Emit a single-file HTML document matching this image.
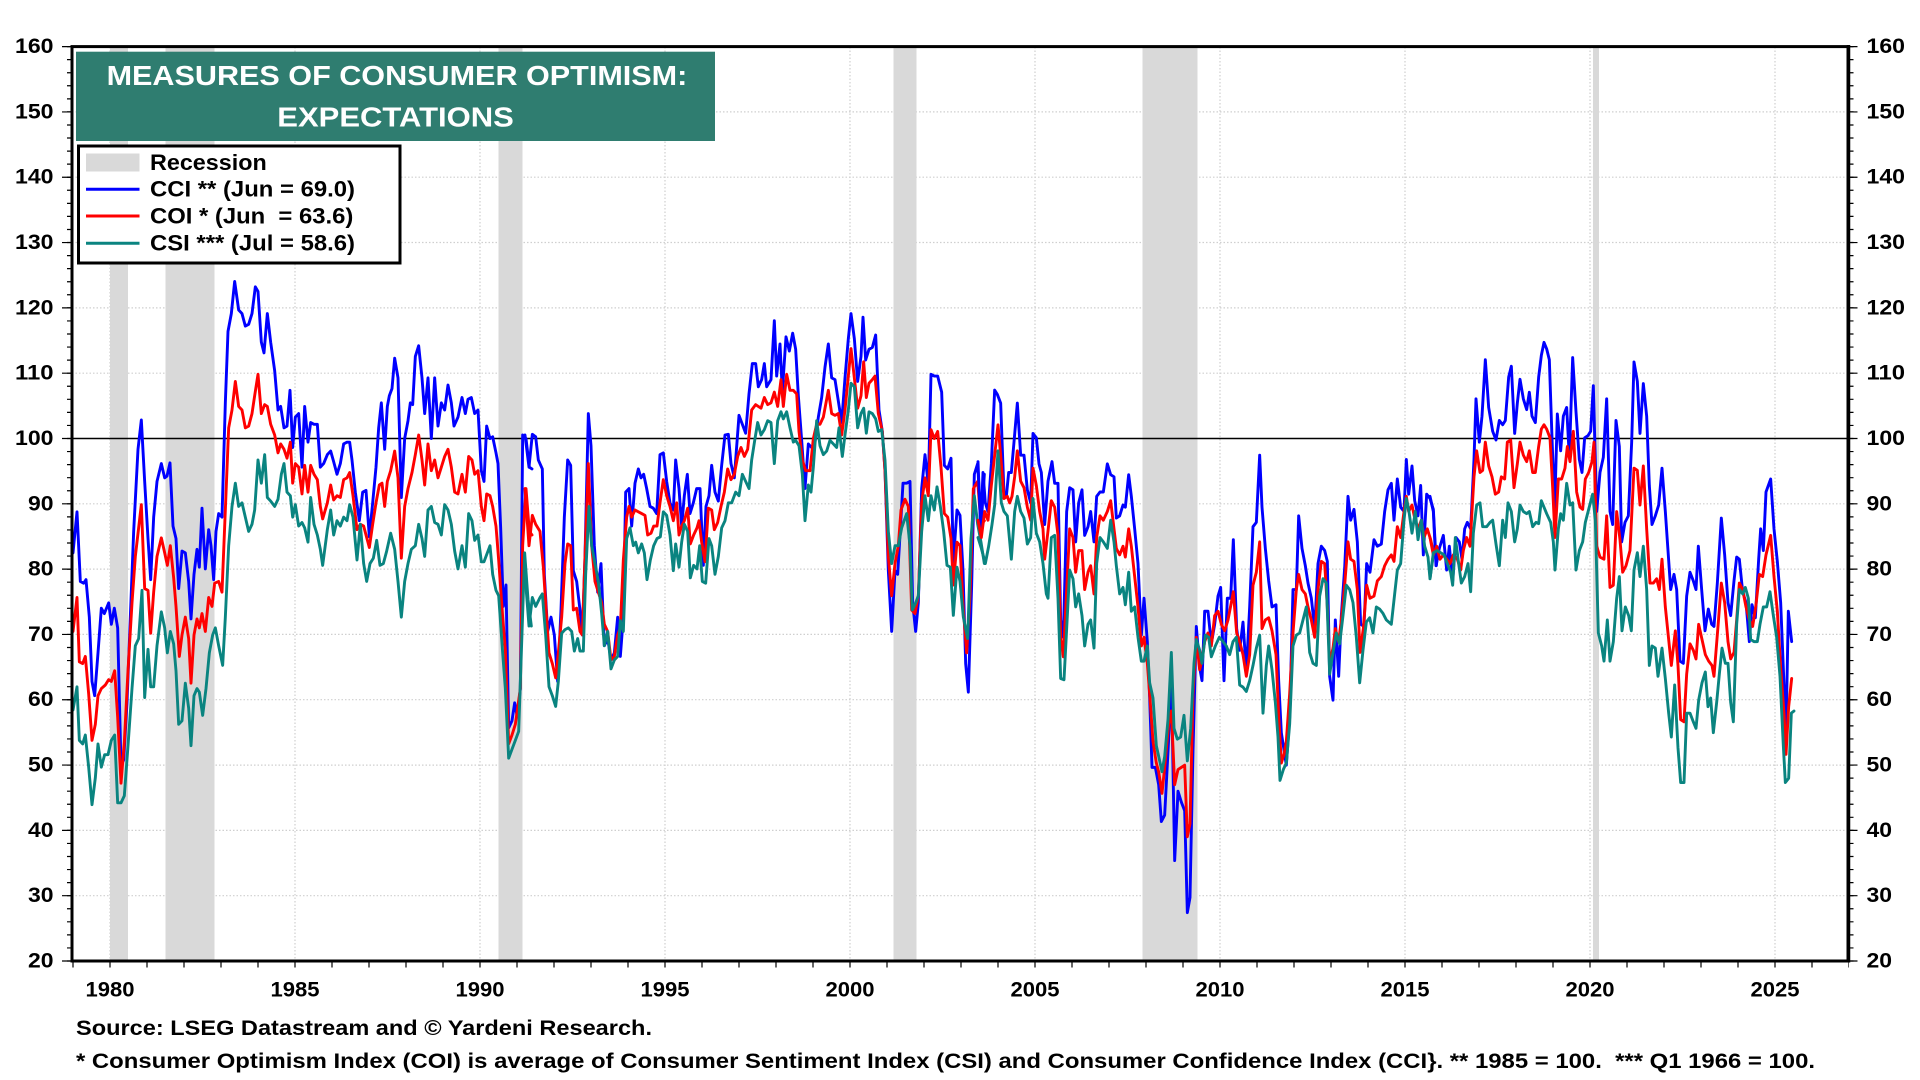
<!DOCTYPE html>
<html><head><meta charset="utf-8"><style>
html,body{margin:0;padding:0;background:#fff;}
svg{display:block;}
text{font-family:"Liberation Sans",Arial,sans-serif;font-weight:bold;}
</style></head><body>
<svg width="1920" height="1080" viewBox="0 0 1920 1080" xmlns="http://www.w3.org/2000/svg">
<rect x="0" y="0" width="1920" height="1080" fill="#fff"/>
<!-- horizontal gridlines -->
<g stroke="#cfcfcf" stroke-width="1.2" stroke-dasharray="1.5 2">
<line x1="72" x2="1848" y1="895.7" y2="895.7"/><line x1="72" x2="1848" y1="830.4" y2="830.4"/>
<line x1="72" x2="1848" y1="765.1" y2="765.1"/><line x1="72" x2="1848" y1="699.7" y2="699.7"/>
<line x1="72" x2="1848" y1="634.4" y2="634.4"/><line x1="72" x2="1848" y1="569.1" y2="569.1"/>
<line x1="72" x2="1848" y1="503.8" y2="503.8"/><line x1="72" x2="1848" y1="373.2" y2="373.2"/>
<line x1="72" x2="1848" y1="307.9" y2="307.9"/><line x1="72" x2="1848" y1="242.5" y2="242.5"/>
<line x1="72" x2="1848" y1="177.2" y2="177.2"/><line x1="72" x2="1848" y1="111.9" y2="111.9"/>
<line x1="110" x2="110" y1="47" y2="960"/><line x1="295" x2="295" y1="47" y2="960"/>
<line x1="480" x2="480" y1="47" y2="960"/><line x1="665" x2="665" y1="47" y2="960"/>
<line x1="850" x2="850" y1="47" y2="960"/><line x1="1035" x2="1035" y1="47" y2="960"/>
<line x1="1220" x2="1220" y1="47" y2="960"/><line x1="1405" x2="1405" y1="47" y2="960"/>
<line x1="1590" x2="1590" y1="47" y2="960"/><line x1="1775" x2="1775" y1="47" y2="960"/>
</g>
<!-- recessions -->
<g fill="#d9d9d9">
<rect x="110" y="47" width="18" height="913"/>
<rect x="165.5" y="47" width="49" height="913"/>
<rect x="498.5" y="47" width="24" height="913"/>
<rect x="893.5" y="47" width="23" height="913"/>
<rect x="1142.5" y="47" width="55" height="913"/>
<rect x="1593" y="47" width="6" height="913"/>
</g>
<!-- 100 line -->
<line x1="72" x2="1848" y1="438.5" y2="438.5" stroke="#000" stroke-width="1.5"/>

<!-- DATA -->
<g fill="none" stroke-width="2.9" stroke-linejoin="round" stroke-linecap="round">
<!-- Group A: 1979-1991 -->
<g transform="translate(72,260) scale(0.333333,0.357143)">
<polyline vector-effect="non-scaling-stroke" stroke="#0000ff" points="3,820 15,705 25,900 35,905 42,895 52,1000 60,1180 68,1220 78,1100 88,975 97,990 110,960 118,1020 127,975 137,1030 147,1415 155,1400 165,1240 175,1000 185,760 198,530 208,448 218,620 228,780 236,895 245,720 255,620 268,570 278,610 285,605 294,568 303,745 312,780 320,920 330,815 340,820 350,900 357,1005 366,880 375,810 382,860 390,695 400,865 410,755 417,800 425,895 432,760 440,710 450,720 460,400 468,200 478,150 488,60 500,140 510,150 520,185 530,180 540,150 550,75 558,88 568,230 576,260 586,150 596,230 608,310 618,420 626,410 636,470 645,465 654,365 662,525 670,440 680,430 690,580 698,410 708,510 716,455 726,460 736,460 745,580 755,570 766,545 776,535 785,565 795,600 805,570 815,515 825,510 833,510 840,560 850,650 862,730 872,650 882,645 892,775 902,680 912,580 920,470 928,400 938,530 946,410 952,380 960,360 968,275 978,330 988,665 998,500 1008,450 1015,400 1022,405 1030,270 1040,240 1050,330 1058,430 1068,330 1078,500 1088,330 1098,465 1108,400 1118,420 1128,350 1138,400 1146,465 1158,440 1170,385 1180,430 1188,390 1198,385 1208,430 1218,420 1228,590 1236,620 1244,465 1254,500 1262,495 1272,540 1278,570 1286,750 1294,970 1302,910 1310,1310 1320,1290 1328,1240 1336,1280 1345,1200 1352,490 1362,500 1372,580 1380,585"/>
<polyline vector-effect="non-scaling-stroke" stroke="#ff0000" points="3,1040 15,945 22,1125 32,1130 40,1110 50,1215 60,1345 70,1300 78,1220 88,1200 100,1190 110,1175 118,1180 128,1150 137,1280 147,1465 157,1350 168,1150 180,960 190,830 208,685 218,920 228,925 236,1045 245,930 255,830 268,778 278,820 286,855 295,800 305,890 312,970 322,1110 330,1050 340,1000 350,1060 357,1185 366,1050 375,1005 382,1030 390,990 400,1040 410,945 420,970 428,905 440,900 450,930 460,700 470,470 480,420 490,340 500,410 510,420 520,470 530,465 540,430 548,380 558,320 568,430 578,405 586,410 596,460 608,490 618,540 626,515 636,530 645,555 655,510 662,625 670,570 680,580 690,655 698,575 708,650 716,575 726,600 736,615 745,690 752,725 766,680 776,630 785,672 795,660 805,665 815,615 825,610 833,595 843,660 855,755 865,740 875,745 892,805 902,740 912,680 922,630 930,625 938,690 946,620 956,590 968,535 978,610 988,835 998,690 1008,640 1020,595 1030,545 1040,490 1050,560 1058,630 1068,515 1078,590 1088,560 1098,610 1108,580 1118,550 1128,530 1138,580 1148,650 1158,655 1170,600 1180,650 1190,550 1200,560 1208,600 1218,590 1228,690 1236,730 1244,655 1254,660 1262,690 1272,745 1280,840 1292,1000 1300,1090 1310,1355 1320,1330 1330,1300 1345,1200 1352,800 1362,640 1372,760 1380,770"/>
<polyline vector-effect="non-scaling-stroke" stroke="#0a8480" points="3,1260 15,1195 22,1345 32,1355 40,1330 50,1420 60,1525 70,1450 78,1355 88,1420 98,1385 108,1385 118,1345 128,1330 137,1520 147,1520 157,1500 168,1360 180,1200 190,1080 200,1060 210,925 218,1225 228,1090 236,1195 245,1195 255,1080 268,985 278,1030 286,1100 295,1040 305,1075 312,1150 320,1300 330,1290 340,1185 350,1255 357,1360 366,1220 375,1200 382,1210 392,1275 402,1200 412,1100 422,1050 430,1030 440,1080 452,1135 460,1000 470,800 480,690 490,625 500,690 510,680 520,720 530,760 540,740 548,700 558,560 568,625 578,545 586,665 596,675 608,690 618,670 628,600 636,570 645,650 655,660 662,720 670,685 680,745 690,735 698,750 708,790 716,665 726,740 736,770 745,810 752,855 766,755 776,700 785,770 795,730 805,745 815,720 825,730 833,685 843,720 855,840 865,740 875,850 884,900 894,850 904,835 914,785 924,855 934,850 944,815 956,765 968,810 978,900 988,1000 998,900 1008,850 1018,810 1030,800 1040,740 1050,780 1058,830 1068,700 1078,690 1088,735 1098,740 1108,770 1118,685 1128,700 1138,740 1148,815 1158,865 1170,800 1180,860 1190,710 1200,730 1208,785 1218,770 1228,845 1236,845 1244,825 1254,800 1262,880 1272,925 1280,940 1292,1100 1300,1200 1310,1395 1320,1370 1330,1345 1340,1320 1348,1100 1358,820 1368,950 1378,1025"/>
</g>
<!-- Group B: 1991-2003 -->
<g transform="translate(525,260) scale(0.333333,0.357143)">
<polyline vector-effect="non-scaling-stroke" stroke="#0000ff" points="0,490 12,580 22,488 32,495 40,560 52,585 58,880 68,1040 78,1000 88,1050 98,1180 108,980 118,720 128,560 137,575 145,870 155,900 165,980 172,1050 180,830 190,430 198,520 208,800 218,930 228,850 238,1080 248,1060 258,1120 268,1100 278,1000 286,1110 295,1000 302,650 312,640 320,745 330,625 340,585 348,610 356,600 365,640 375,690 385,695 395,710 405,545 415,540 425,620 435,680 445,700 452,560 462,640 470,745 478,660 487,600 495,710 505,680 515,640 525,640 535,855 543,690 552,660 560,575 570,650 580,675 590,575 600,490 610,488 618,570 628,610 642,435 652,460 662,485 672,375 682,290 692,290 700,355 710,335 718,290 725,355 738,335 748,170 755,325 765,235 772,370 783,215 793,255 803,205 812,250 820,380 830,505 840,640 850,515 860,525 870,510 880,440 890,385 900,300 910,235 920,330 930,335 940,395 950,455 960,330 970,220 978,150 988,220 998,340 1008,270 1014,160 1022,280 1032,250 1042,245 1052,210 1062,420 1072,480 1080,590 1090,870 1100,1040 1110,870 1118,880 1126,755 1134,625 1145,625 1155,620 1163,960 1172,1040 1180,960 1190,640 1200,545 1210,630 1218,320 1228,325 1238,325 1250,370 1258,575 1268,585 1278,555 1285,845 1296,700 1305,715 1314,870 1322,1130 1330,1210 1340,910 1348,600 1358,570 1368,750 1378,600"/>
<polyline vector-effect="non-scaling-stroke" stroke="#ff0000" points="0,640 12,800 22,715 32,740 45,760 55,860 62,960 72,1100 82,1130 92,1170 100,1100 110,1000 120,850 128,795 137,800 145,980 155,975 165,1040 172,1050 180,830 190,570 200,800 210,900 220,930 230,960 238,1020 248,1040 258,1120 268,1110 278,1050 286,1030 295,840 305,720 312,690 320,720 330,700 340,705 350,710 360,715 368,770 378,765 386,745 396,745 405,680 415,615 425,660 435,690 445,730 455,680 462,770 470,745 478,730 488,695 496,795 506,770 516,750 522,730 530,790 540,845 550,695 560,700 568,755 578,735 588,690 598,650 608,585 618,615 628,600 638,550 648,525 658,550 668,530 680,420 692,405 700,410 708,415 718,385 728,405 738,400 748,370 758,410 768,335 775,410 785,320 795,365 805,365 815,375 822,480 832,560 842,590 855,590 865,500 875,460 885,460 895,440 910,365 920,430 930,435 940,430 950,490 960,420 970,325 978,248 988,330 998,415 1008,380 1016,285 1024,385 1032,345 1042,335 1050,325 1060,430 1072,480 1080,590 1090,830 1100,940 1110,850 1120,800 1128,700 1140,670 1150,690 1160,980 1170,990 1180,940 1190,680 1200,610 1210,660 1218,475 1228,500 1238,480 1248,580 1258,710 1268,720 1278,780 1285,910 1296,790 1305,800 1315,980 1325,1100 1335,940 1345,640 1358,620 1368,740 1378,730"/>
<polyline vector-effect="non-scaling-stroke" stroke="#0a8480" points="0,880 12,1025 22,945 32,970 45,945 52,935 62,1050 72,1195 82,1220 92,1250 100,1180 110,1045 120,1035 130,1030 140,1040 148,1095 158,1060 165,1095 175,1095 182,880 192,690 200,800 210,850 220,900 230,990 238,1080 248,1040 258,1145 268,1120 278,1110 286,1010 295,1040 305,780 315,750 325,800 332,790 340,820 350,795 358,820 366,895 376,840 386,800 396,780 406,775 415,705 425,715 435,770 445,870 452,795 462,860 470,790 478,740 488,760 496,890 506,855 516,865 524,800 532,900 542,905 552,780 560,800 570,880 580,830 590,750 600,730 610,680 620,680 632,650 642,660 652,600 662,620 672,640 680,560 690,500 698,455 708,490 718,475 728,450 738,455 748,570 758,450 768,425 775,445 785,425 795,470 805,510 812,505 822,520 832,600 840,730 850,630 858,650 865,580 875,450 885,520 895,545 905,535 915,505 925,515 935,525 942,470 952,550 960,490 970,420 978,345 988,355 998,470 1008,430 1016,415 1024,485 1032,425 1042,430 1052,445 1060,480 1070,475 1080,560 1090,760 1100,850 1110,800 1120,800 1130,750 1145,710 1155,800 1162,980 1172,960 1180,940 1190,760 1200,660 1210,730 1218,660 1228,700 1236,635 1246,690 1256,760 1266,855 1276,860 1285,995 1296,860 1305,900 1315,1000 1328,1060 1338,780 1348,660 1358,740 1368,790 1378,850"/>
</g>
<!-- Group C: 2003-2015 -->
<g transform="translate(978,260) scale(0.333333,0.433651)">
<polyline vector-effect="non-scaling-stroke" stroke="#0000ff" points="0,465 8,620 15,490 22,560 30,580 40,470 50,300 58,310 68,330 78,540 85,545 92,490 100,490 108,420 118,330 128,450 138,450 148,530 158,560 165,400 175,410 183,470 190,490 200,610 210,510 222,465 230,515 240,515 248,830 256,870 266,580 275,525 285,530 293,650 302,560 312,530 320,635 330,615 338,580 348,650 356,545 366,535 376,535 388,470 398,495 408,500 415,595 425,590 435,565 442,570 452,495 460,545 470,620 480,700 490,865 498,780 508,880 515,1010 522,1170 532,1170 542,1210 550,1295 560,1280 572,1105 580,960 590,1385 600,1225 610,1250 620,1270 628,1505 636,1470 645,1130 655,845 665,940 672,970 680,810 690,810 700,885 710,840 720,775 728,755 738,970 748,780 758,780 766,645 776,850 785,900 795,835 805,950 815,800 825,615 835,605 845,450 852,570 862,665 872,740 882,800 894,795 902,970 910,1090 918,1130 925,1165 935,1055 945,760 955,760 962,590 972,665 982,705 990,745 1000,780 1010,850 1020,700 1030,660 1040,670 1048,695 1055,960 1065,1015 1072,830 1082,960 1090,820 1100,710 1110,545 1118,600 1128,575 1138,650 1148,840 1158,845 1166,700 1176,720 1188,645 1198,660 1210,655 1220,580 1230,530 1240,515 1248,600 1258,505 1268,570 1278,580 1285,460 1292,540 1302,475 1310,555 1320,590 1328,520 1336,680 1346,540 1356,550 1366,575 1375,705 1380,670"/>
<polyline vector-effect="non-scaling-stroke" stroke="#ff0000" points="0,600 10,640 20,580 30,600 40,520 50,450 60,380 68,450 78,550 88,545 95,560 102,545 110,500 118,440 128,510 138,525 148,570 158,600 165,480 175,520 185,580 195,620 200,690 210,625 220,555 230,570 240,635 248,870 256,915 266,760 275,620 285,640 293,720 302,670 312,670 320,760 330,720 338,705 348,770 356,640 366,590 376,600 388,580 398,555 408,620 415,665 425,680 435,660 442,685 452,620 460,660 470,730 480,800 490,890 498,870 508,930 515,1000 525,1110 535,1160 542,1180 552,1230 560,1170 572,1070 580,1040 590,1210 600,1175 610,1170 620,1165 628,1330 636,1300 645,1000 655,870 665,945 672,920 680,880 690,860 700,890 710,820 720,810 730,840 740,855 750,830 760,790 766,765 776,860 785,880 795,910 805,960 815,910 825,750 835,720 845,650 852,850 862,830 872,825 882,855 894,910 902,1050 910,1160 918,1140 925,1110 935,1000 945,860 955,760 962,725 972,760 982,770 990,800 1000,830 1010,870 1020,760 1030,695 1040,700 1048,800 1055,930 1065,895 1072,850 1082,880 1090,830 1100,750 1110,650 1118,690 1128,695 1138,760 1146,905 1156,850 1166,750 1176,780 1188,775 1198,740 1210,730 1220,705 1230,690 1240,680 1248,695 1258,615 1268,640 1278,580 1285,545 1292,580 1302,565 1310,595 1320,620 1330,600 1338,640 1348,620 1358,645 1368,680 1380,680"/>
<polyline vector-effect="non-scaling-stroke" stroke="#0a8480" points="0,640 10,665 22,700 32,660 42,610 50,565 60,440 70,560 78,580 88,590 100,690 110,580 118,545 128,580 138,595 148,655 158,640 165,550 175,630 185,650 195,700 205,770 210,780 220,640 230,635 240,780 248,965 258,968 266,850 275,715 285,735 293,800 302,770 312,820 320,890 330,840 338,830 348,895 356,700 366,640 376,650 388,665 398,600 408,650 415,705 425,770 435,755 442,795 452,720 460,810 470,800 480,870 490,925 498,925 508,890 515,975 525,1010 535,1120 545,1155 552,1180 560,1145 570,1060 580,905 588,1080 598,1105 608,1100 618,1050 628,1155 638,1080 648,930 655,875 665,900 672,930 682,865 692,870 700,915 712,890 724,870 735,880 745,890 755,910 765,880 775,870 785,980 795,985 805,995 815,970 825,935 835,895 845,865 855,1045 865,935 872,890 882,945 892,1020 900,1100 906,1200 916,1175 925,1160 935,1070 945,890 955,865 965,860 975,830 985,800 995,905 1005,930 1015,935 1025,775 1035,735 1045,745 1055,955 1065,905 1075,860 1085,885 1095,820 1105,750 1115,760 1125,790 1135,870 1145,975 1155,900 1165,835 1175,825 1185,860 1195,800 1205,805 1215,815 1225,830 1240,840 1250,770 1258,715 1268,700 1278,600 1285,550 1292,575 1302,630 1312,580 1320,645 1330,600 1340,660 1350,685 1356,735 1366,680 1380,670"/>
</g>
<!-- Group D: 2015-2025 -->
<g transform="translate(1430,260) scale(0.333333,0.433651)">
<polyline vector-effect="non-scaling-stroke" stroke="#0000ff" points="0,545 10,580 18,705 28,665 40,635 50,715 58,660 68,740 78,640 88,650 96,690 104,620 112,605 122,620 132,460 138,320 148,420 156,360 166,230 176,340 188,395 198,415 208,370 218,380 226,370 236,270 244,245 254,400 262,330 270,275 280,320 290,345 298,305 306,360 316,375 326,270 334,220 342,190 350,205 358,230 366,410 374,575 382,355 392,440 400,360 410,340 418,455 428,225 438,350 448,460 456,490 464,410 474,405 482,395 490,290 500,580 510,490 520,455 530,320 540,580 548,610 558,370 568,430 575,650 585,605 595,590 605,420 612,235 622,280 630,400 640,285 650,360 658,520 666,610 676,590 686,565 696,480 706,580 714,670 722,760 732,725 740,760 750,925 760,930 770,775 780,720 790,740 798,760 805,660 815,760 825,855 835,805 845,840 852,845 862,745 874,595 884,680 894,790 902,820 912,740 920,685 928,690 938,765 948,790 958,880 966,795 976,825 986,690 992,620 1000,670 1008,535 1022,505 1032,620 1042,695 1052,790 1062,980 1068,1090 1075,810 1085,880"/>
<polyline vector-effect="non-scaling-stroke" stroke="#ff0000" points="0,640 10,680 20,660 30,690 40,680 50,690 60,700 70,680 82,690 92,715 100,670 110,640 120,660 132,500 140,440 150,490 158,485 166,420 176,475 186,500 196,540 206,535 214,500 224,505 232,420 242,415 252,525 262,470 270,420 280,450 290,465 298,440 308,490 316,490 326,430 334,390 342,380 350,390 360,410 368,525 375,640 385,505 395,505 405,480 412,430 420,465 430,395 440,535 450,570 458,575 466,505 476,490 486,465 492,420 500,660 510,685 522,690 530,590 540,755 550,750 560,580 570,645 578,720 588,705 600,670 612,480 622,485 630,565 640,475 650,620 660,745 670,745 680,735 688,760 696,690 706,800 714,860 724,935 736,855 744,935 752,1060 762,1065 770,955 780,885 790,900 798,920 806,840 816,875 826,910 836,925 846,935 852,960 864,845 874,745 884,790 894,880 902,920 912,905 920,830 928,745 938,760 948,800 958,830 968,845 978,795 988,725 998,730 1008,680 1022,635 1032,730 1042,810 1052,940 1062,1045 1068,1140 1076,1030 1085,965"/>
<polyline vector-effect="non-scaling-stroke" stroke="#0a8480" points="0,735 10,675 22,670 32,675 42,680 52,700 62,720 68,750 76,640 86,700 94,745 104,730 114,700 122,765 130,630 140,565 150,560 158,615 170,615 180,605 188,600 198,655 208,705 218,600 226,640 234,560 244,580 254,650 262,620 270,565 280,580 290,585 298,580 308,615 318,605 326,608 334,555 342,570 350,585 362,605 370,650 375,715 385,620 392,585 400,600 410,515 420,565 428,560 438,715 448,670 458,650 466,605 476,575 488,540 496,600 505,860 515,890 522,925 532,830 540,925 550,880 560,780 568,730 576,855 586,800 596,820 604,855 612,715 622,675 630,730 640,660 650,760 658,935 666,890 676,895 684,960 696,895 706,965 716,1045 724,1100 734,980 744,1125 752,1205 762,1205 770,1045 780,1045 790,1065 798,1080 806,1015 816,975 826,950 834,1030 842,1010 850,1090 860,1020 868,955 876,895 886,930 894,930 902,1020 910,1065 920,840 928,760 938,770 946,755 955,780 962,875 972,880 982,880 990,840 1000,800 1010,800 1020,765 1030,820 1040,870 1050,960 1060,1120 1066,1205 1076,1195 1084,1045 1092,1040"/>
</g>
</g>

<!-- axis frame -->
<rect x="72" y="46.6" width="1776" height="914.4" fill="none" stroke="#000" stroke-width="3"/>
<line x1="1848.5" x2="1848.5" y1="45" y2="962.5" stroke="#000" stroke-width="3.5"/>
<!-- y ticks left/right (minor every 2, major every 10) -->
<g stroke="#000">
<line x1="69.5" x2="69.5" y1="961.6" y2="45" stroke-width="5" stroke-dasharray="1.2 11.863"/>
<line x1="67" x2="67" y1="961.6" y2="45" stroke-width="10" stroke-dasharray="1.2 64.114"/>
<line x1="1851" x2="1851" y1="961.6" y2="45" stroke-width="5" stroke-dasharray="1.2 11.863"/>
<line x1="1853" x2="1853" y1="961.6" y2="45" stroke-width="9" stroke-dasharray="1.2 64.114"/>
<line x1="72.4" x2="1849" y1="964.5" y2="964.5" stroke-width="6" stroke-dasharray="1.2 35.8"/>
</g>

<!-- y labels -->
<g font-size="21" fill="#000">
<text x="15" y="53" textLength="38.5" lengthAdjust="spacingAndGlyphs">160</text>
<text x="15" y="118.4" textLength="38.5" lengthAdjust="spacingAndGlyphs">150</text>
<text x="15" y="183.7" textLength="38.5" lengthAdjust="spacingAndGlyphs">140</text>
<text x="15" y="249" textLength="38.5" lengthAdjust="spacingAndGlyphs">130</text>
<text x="15" y="314.4" textLength="38.5" lengthAdjust="spacingAndGlyphs">120</text>
<text x="15" y="379.7" textLength="38.5" lengthAdjust="spacingAndGlyphs">110</text>
<text x="15" y="445" textLength="38.5" lengthAdjust="spacingAndGlyphs">100</text>
<text x="28" y="510.3" textLength="25.5" lengthAdjust="spacingAndGlyphs">90</text>
<text x="28" y="575.6" textLength="25.5" lengthAdjust="spacingAndGlyphs">80</text>
<text x="28" y="640.9" textLength="25.5" lengthAdjust="spacingAndGlyphs">70</text>
<text x="28" y="706.2" textLength="25.5" lengthAdjust="spacingAndGlyphs">60</text>
<text x="28" y="771.6" textLength="25.5" lengthAdjust="spacingAndGlyphs">50</text>
<text x="28" y="836.9" textLength="25.5" lengthAdjust="spacingAndGlyphs">40</text>
<text x="28" y="902.2" textLength="25.5" lengthAdjust="spacingAndGlyphs">30</text>
<text x="28" y="967.5" textLength="25.5" lengthAdjust="spacingAndGlyphs">20</text>

<text x="1866.5" y="53" textLength="38.5" lengthAdjust="spacingAndGlyphs">160</text>
<text x="1866.5" y="118.4" textLength="38.5" lengthAdjust="spacingAndGlyphs">150</text>
<text x="1866.5" y="183.7" textLength="38.5" lengthAdjust="spacingAndGlyphs">140</text>
<text x="1866.5" y="249" textLength="38.5" lengthAdjust="spacingAndGlyphs">130</text>
<text x="1866.5" y="314.4" textLength="38.5" lengthAdjust="spacingAndGlyphs">120</text>
<text x="1866.5" y="379.7" textLength="38.5" lengthAdjust="spacingAndGlyphs">110</text>
<text x="1866.5" y="445" textLength="38.5" lengthAdjust="spacingAndGlyphs">100</text>
<text x="1866.5" y="510.3" textLength="25.5" lengthAdjust="spacingAndGlyphs">90</text>
<text x="1866.5" y="575.6" textLength="25.5" lengthAdjust="spacingAndGlyphs">80</text>
<text x="1866.5" y="640.9" textLength="25.5" lengthAdjust="spacingAndGlyphs">70</text>
<text x="1866.5" y="706.2" textLength="25.5" lengthAdjust="spacingAndGlyphs">60</text>
<text x="1866.5" y="771.6" textLength="25.5" lengthAdjust="spacingAndGlyphs">50</text>
<text x="1866.5" y="836.9" textLength="25.5" lengthAdjust="spacingAndGlyphs">40</text>
<text x="1866.5" y="902.2" textLength="25.5" lengthAdjust="spacingAndGlyphs">30</text>
<text x="1866.5" y="967.5" textLength="25.5" lengthAdjust="spacingAndGlyphs">20</text>

<!-- x labels -->
<text x="85.5" y="996.5" textLength="49" lengthAdjust="spacingAndGlyphs">1980</text>
<text x="270.5" y="996.5" textLength="49" lengthAdjust="spacingAndGlyphs">1985</text>
<text x="455.5" y="996.5" textLength="49" lengthAdjust="spacingAndGlyphs">1990</text>
<text x="640.5" y="996.5" textLength="49" lengthAdjust="spacingAndGlyphs">1995</text>
<text x="825.5" y="996.5" textLength="49" lengthAdjust="spacingAndGlyphs">2000</text>
<text x="1010.5" y="996.5" textLength="49" lengthAdjust="spacingAndGlyphs">2005</text>
<text x="1195.5" y="996.5" textLength="49" lengthAdjust="spacingAndGlyphs">2010</text>
<text x="1380.5" y="996.5" textLength="49" lengthAdjust="spacingAndGlyphs">2015</text>
<text x="1565.5" y="996.5" textLength="49" lengthAdjust="spacingAndGlyphs">2020</text>
<text x="1750.5" y="996.5" textLength="49" lengthAdjust="spacingAndGlyphs">2025</text>

<!-- footnotes -->
<text x="76" y="1035" textLength="576" lengthAdjust="spacingAndGlyphs">Source: LSEG Datastream and © Yardeni Research.</text>
<text x="76" y="1068" textLength="1739" lengthAdjust="spacingAndGlyphs" xml:space="preserve">* Consumer Optimism Index (COI) is average of Consumer Sentiment Index (CSI) and Consumer Confidence Index (CCI}. ** 1985 = 100.  *** Q1 1966 = 100.</text>
</g>

<!-- title box -->
<rect x="76" y="51.7" width="639" height="89.3" fill="#2f7d70"/>
<g font-size="28" fill="#fff">
<text x="106.6" y="85" textLength="580.7" lengthAdjust="spacingAndGlyphs">MEASURES OF CONSUMER OPTIMISM:</text>
<text x="277.3" y="126.7" textLength="236.5" lengthAdjust="spacingAndGlyphs">EXPECTATIONS</text>
</g>

<!-- legend -->
<rect x="78.5" y="146" width="321.5" height="117" fill="#fff" stroke="#000" stroke-width="3"/>
<rect x="86" y="153.5" width="53.5" height="18" fill="#d9d9d9"/>
<line x1="86" x2="139.5" y1="189.3" y2="189.3" stroke="#0000ff" stroke-width="3"/>
<line x1="86" x2="139.5" y1="216" y2="216" stroke="#ff0000" stroke-width="3"/>
<line x1="86" x2="139.5" y1="243.3" y2="243.3" stroke="#0a8480" stroke-width="3"/>
<g font-size="22" fill="#000">
<text x="150" y="170" textLength="116.7" lengthAdjust="spacingAndGlyphs">Recession</text>
<text x="150" y="196.7" textLength="205" lengthAdjust="spacingAndGlyphs">CCI ** (Jun = 69.0)</text>
<text x="150" y="223.7" textLength="203.3" lengthAdjust="spacingAndGlyphs" xml:space="preserve">COI * (Jun  = 63.6)</text>
<text x="150" y="250.5" textLength="205" lengthAdjust="spacingAndGlyphs">CSI *** (Jul = 58.6)</text>
</g>
</svg>
</body></html>
